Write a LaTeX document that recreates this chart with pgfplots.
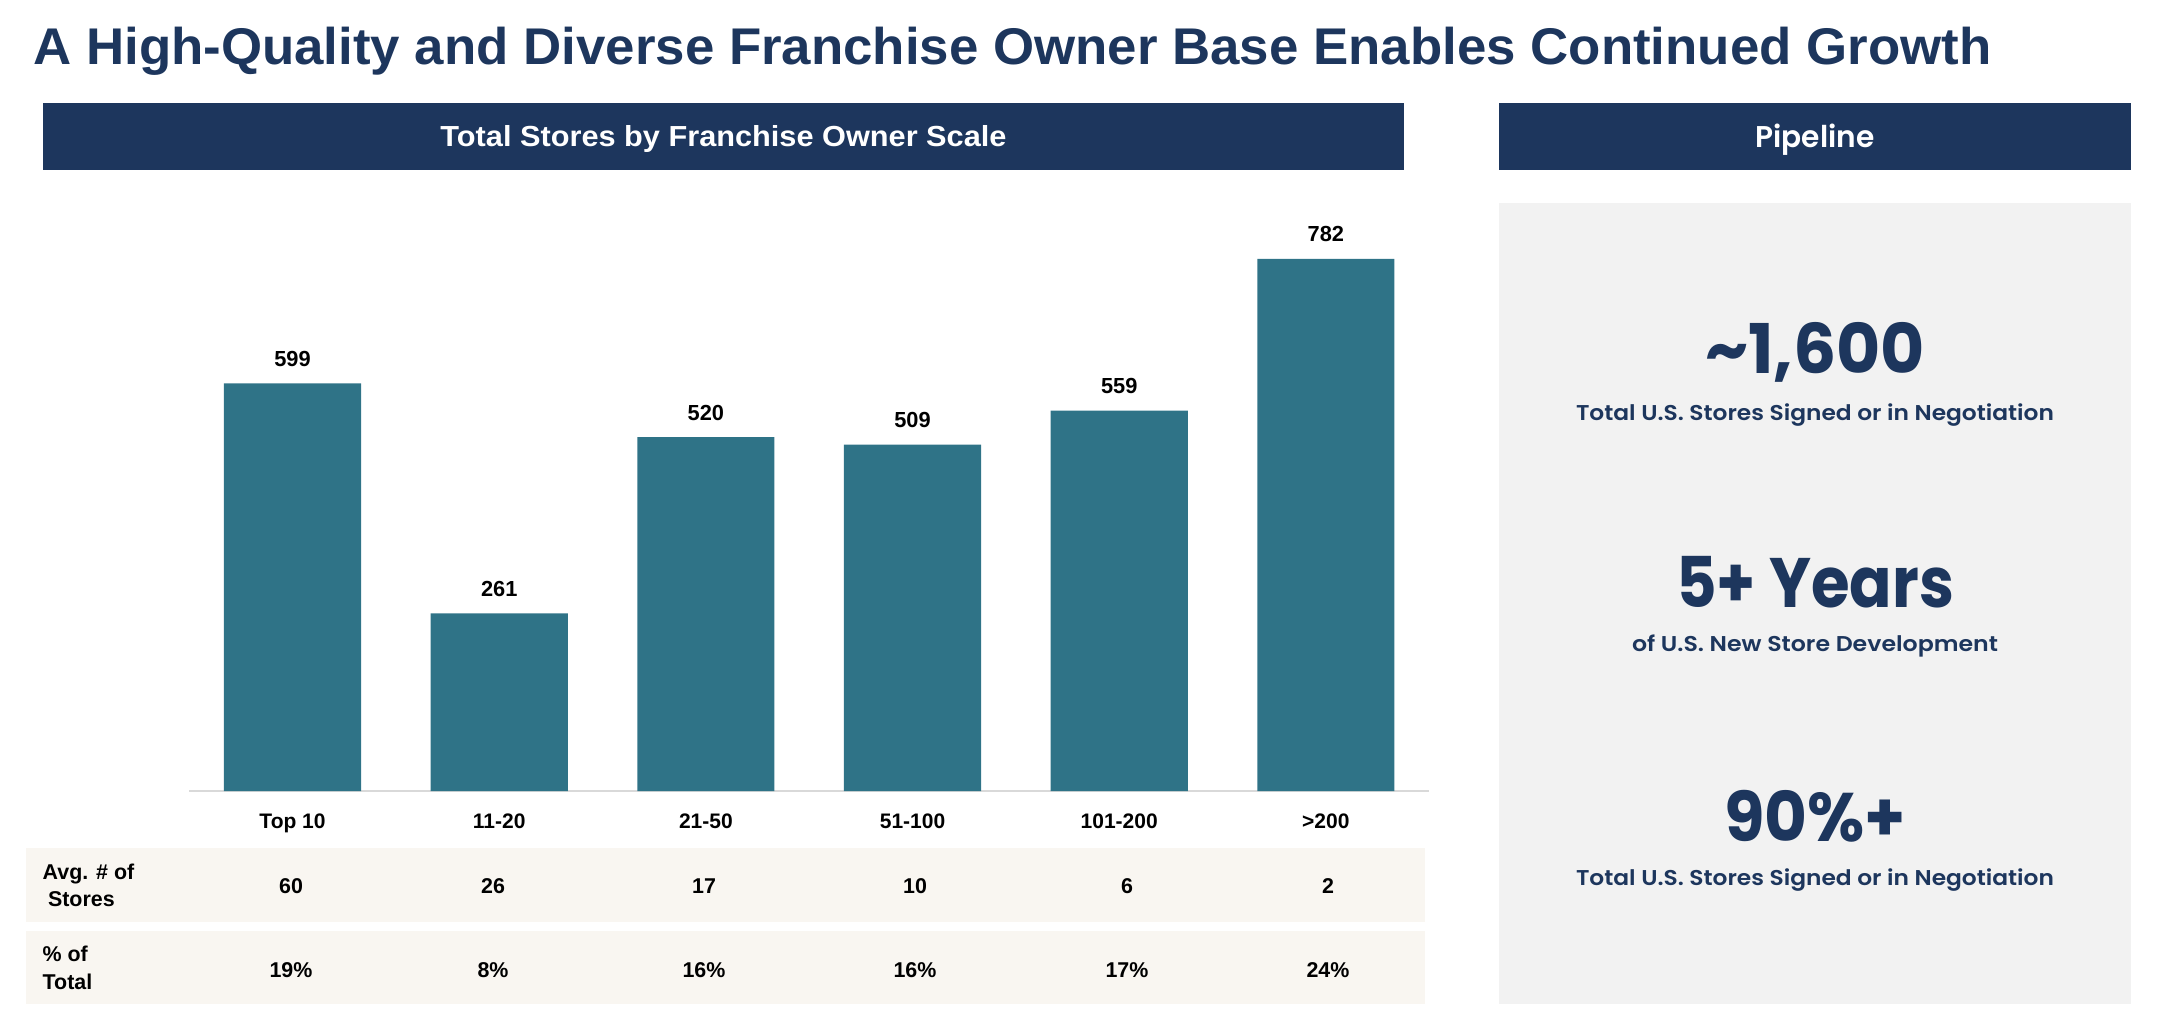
\documentclass[border=0pt]{standalone}
\usepackage{fontspec}
\usepackage{graphicx}
\usepackage{pgfplots}
\pgfplotsset{compat=1.18}
\setmainfont{Liberation Sans}
\newfontfamily\pop{Poppins}
\newfontfamily\popsemi{Poppins SemiBold}

\definecolor{navy}{HTML}{1D365D}
\definecolor{barteal}{HTML}{2F7387}
\definecolor{band}{HTML}{F9F6F1}
\definecolor{panel}{HTML}{F2F2F2}
\definecolor{axisgray}{HTML}{D9D9D9}

\newcommand{\tabfont}{\fontsize{10.7pt}{12pt}\selectfont\bfseries}

\begin{document}
\begin{tikzpicture}
% page layout in pixel-like units, origin at the top left
\begin{scope}[x=0.5pt,y=-0.5pt]
\path[use as bounding box] (0,0) rectangle (2164,1034);

% title
\node[anchor=base west, inner sep=0pt, text=navy] at (33,64)
  {\resizebox{979pt}{\height}{\fontsize{25.8pt}{26pt}\selectfont\bfseries A High-Quality and Diverse Franchise Owner Base Enables Continued Growth}};

% section headers
\fill[navy] (43,103) rectangle (1404,170);
\node[anchor=base, inner sep=0pt, text=white] at (723.5,146.5)
  {\resizebox{283pt}{\height}{\fontsize{14.5pt}{15pt}\selectfont\bfseries Total Stores by Franchise Owner Scale}};
\fill[navy] (1499,103) rectangle (2131,170);
\node[anchor=base, inner sep=0pt, text=white] at (1815,147)
  {\resizebox{59.5pt}{\height}{\fontsize{15pt}{15pt}\selectfont\popsemi Pipeline}};

% pipeline panel
\fill[panel] (1499,203) rectangle (2131,1004);
\node[anchor=base, inner sep=0pt, text=navy] at (1815,373)
  {\resizebox{110pt}{\height}{\fontsize{34.3pt}{35pt}\selectfont\pop\bfseries \textasciitilde1,600}};
\node[anchor=base, inner sep=0pt, text=navy] at (1815,420)
  {\resizebox{239pt}{\height}{\fontsize{10.7pt}{12pt}\selectfont\popsemi Total U.S. Stores Signed or in Negotiation}};
\node[anchor=base, inner sep=0pt, text=navy] at (1815,607)
  {\resizebox{139pt}{\height}{\fontsize{35pt}{36pt}\selectfont\pop\bfseries 5+ Years}};
\node[anchor=base, inner sep=0pt, text=navy] at (1815,651)
  {\resizebox{183pt}{\height}{\fontsize{10.7pt}{12pt}\selectfont\popsemi of U.S. New Store Development}};
\node[anchor=base, inner sep=0pt, text=navy] at (1815,841)
  {\resizebox{91pt}{\height}{\fontsize{34.3pt}{35pt}\selectfont\pop\bfseries 90\%+}};
\node[anchor=base, inner sep=0pt, text=navy] at (1815,885)
  {\resizebox{239pt}{\height}{\fontsize{10.7pt}{12pt}\selectfont\popsemi Total U.S. Stores Signed or in Negotiation}};

% table below the chart
\fill[band] (26,848) rectangle (1425,922);
\fill[band] (26,931) rectangle (1425,1004);
\node[anchor=base west, inner sep=0pt, font=\tabfont] at (42.3,879.3) {Avg. \# of};
\node[anchor=base west, inner sep=0pt, font=\tabfont] at (47.7,906.7) {Stores};
\node[anchor=base west, inner sep=0pt, font=\tabfont] at (42.3,961.7) {\% of};
\node[anchor=base west, inner sep=0pt, font=\tabfont] at (42.3,989.3) {Total};
\foreach \x/\v in {291/60, 493/26, 704/17, 915/10, 1127/6, 1328/2}
  \node[anchor=base, inner sep=0pt, font=\tabfont] at (\x,893) {\v};
\foreach \x/\v in {291/19, 493/8, 704/16, 915/16, 1127/17, 1328/24}
  \node[anchor=base, inner sep=0pt, font=\tabfont] at (\x,977) {\v\%};
\end{scope}

% bar chart
\begin{axis}[
  at={(94.6pt,-395.5pt)}, anchor=south west,
  scale only axis, width=620pt, height=272.2pt,
  xmin=-0.5, xmax=5.5, ymin=0, ymax=800,
  ybar, bar width=0.6634,
  axis y line=none,
  axis x line*=bottom,
  x axis line style={draw=axisgray, line width=1.3pt},
  xtick={0,...,5},
  xticklabels={Top 10, 11-20, 21-50, 51-100, 101-200, >200},
  xtick style={draw=none}, major tick length=0pt,
  xticklabel style={anchor=base, inner sep=0pt, yshift=-18.5pt,
    font=\fontsize{10.5pt}{11pt}\selectfont\bfseries},
  ytick=\empty,
  /pgf/number format/assume math mode=true,
  nodes near coords,
  every node near coord/.append style={anchor=base, inner sep=0pt, yshift=8.5pt,
    font=\fontsize{10.9pt}{11pt}\selectfont\bfseries, text=black},
  clip=false,
]
\addplot[fill=barteal, draw=none] coordinates {(0,599) (1,261) (2,520) (3,509) (4,559) (5,782)};
\end{axis}
\end{tikzpicture}
\end{document}
